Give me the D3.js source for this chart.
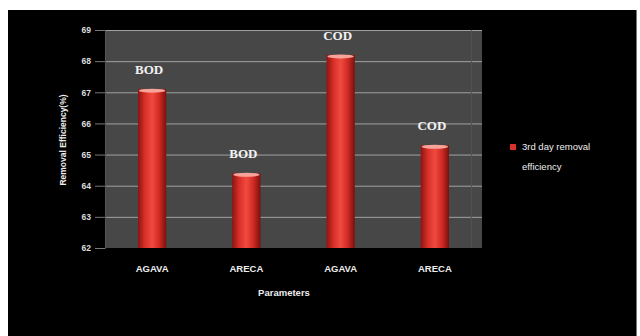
<!DOCTYPE html>
<html><head><meta charset="utf-8">
<script src="https://cdn.jsdelivr.net/npm/d3@7"></script>
<style>html,body{margin:0;padding:0;background:#fff;}svg{display:block;}</style>
</head><body>
<script>
const categories = ["AGAVA", "ARECA", "AGAVA", "ARECA"];
const parameters = ["BOD", "BOD", "COD", "COD"];
const values = [67.1, 64.4, 68.2, 65.3];
const yTicks = [62, 63, 64, 65, 66, 67, 68, 69];
const seriesName = ["3rd day removal", "efficiency"];

const W = 640, H = 336;
const svg = d3.select("body").append("svg").attr("width", W).attr("height", H);
const defs = svg.append("defs");
const g1 = defs.append("linearGradient").attr("id", "barGrad").attr("x1", "0").attr("x2", "1").attr("y1", "0").attr("y2", "0");
[[0, "#8c1410"], [0.25, "#d8302a"], [0.5, "#f04a40"], [0.75, "#d02a24"], [1, "#7a100c"]].forEach(([o, c]) => g1.append("stop").attr("offset", o).attr("stop-color", c));

svg.append("rect").attr("x", 0).attr("y", 0).attr("width", W).attr("height", H).attr("fill", "#fff");
svg.append("rect").attr("x", 8).attr("y", 10).attr("width", 628).attr("height", 326).attr("fill", "#000");
svg.append("line").attr("x1", 636.5).attr("x2", 636.5).attr("y1", 10).attr("y2", 336).attr("stroke", "#777").attr("stroke-width", 1);

const L = 105, R = 482, T = 30, B = 248;
const x = d3.scaleBand().domain(d3.range(categories.length)).range([L, R]).paddingInner(0.7).paddingOuter(0.35);
const y = d3.scaleLinear().domain([62, 69]).range([B, T]);

svg.append("rect").attr("x", L).attr("y", T).attr("width", R - L).attr("height", B - T).attr("fill", "#474747");
svg.append("g").selectAll("line").data(yTicks.slice(1)).join("line")
  .attr("x1", L).attr("x2", R).attr("y1", d => y(d) + 0.5).attr("y2", d => y(d) + 0.5)
  .attr("stroke", "#a0a0a0").attr("stroke-width", 1);
svg.append("line").attr("x1", R - 10.5).attr("x2", R - 10.5).attr("y1", T).attr("y2", B).attr("stroke", "#525252");

const yAxis = svg.append("g").attr("transform", `translate(${L},0)`)
  .call(d3.axisLeft(y).tickValues(yTicks).tickSize(10).tickPadding(4).tickFormat(d3.format("d")));
yAxis.select(".domain").attr("stroke", "#555");
yAxis.selectAll(".tick line").attr("stroke", "#777");
yAxis.selectAll("text").attr("fill", "#ddd").attr("font-family", "Liberation Sans, Arial, sans-serif").attr("font-size", 8.5).attr("font-weight", "bold");

svg.append("g").selectAll("rect").data(values).join("rect")
  .attr("x", (d, i) => x(i)).attr("width", x.bandwidth())
  .attr("y", d => y(d)).attr("height", d => B - y(d))
  .attr("fill", "url(#barGrad)");
svg.append("g").selectAll("ellipse").data(values).join("ellipse")
  .attr("cx", (d, i) => x(i) + x.bandwidth() / 2).attr("cy", d => y(d) + 1.5)
  .attr("rx", x.bandwidth() / 2 - 1).attr("ry", 2).attr("fill", "#f6a49a");

svg.append("g").selectAll("text").data(values).join("text")
  .attr("x", (d, i) => x(i) + x.bandwidth() / 2 - 3).attr("y", d => y(d) - 15)
  .attr("text-anchor", "middle").attr("fill", "#f2f2f2")
  .attr("font-family", "Liberation Serif, Times New Roman, serif").attr("font-weight", "bold").attr("font-size", 13)
  .text((d, i) => parameters[i]);

const xAxis = svg.append("g").attr("transform", `translate(0,${B})`)
  .call(d3.axisBottom(x).tickSize(0).tickPadding(17).tickFormat(i => categories[i]));
xAxis.select(".domain").remove();
xAxis.selectAll("text").attr("fill", "#eee").attr("font-family", "Liberation Sans, Arial, sans-serif").attr("font-size", 9.5).attr("font-weight", "bold");

svg.append("text").attr("x", 284).attr("y", 296).attr("text-anchor", "middle").attr("fill", "#eee")
  .attr("font-family", "Liberation Sans, Arial, sans-serif").attr("font-size", 9.5).attr("font-weight", "bold").text("Parameters");
svg.append("text").attr("transform", "translate(66,140) rotate(-90)").attr("text-anchor", "middle").attr("fill", "#eee")
  .attr("font-family", "Liberation Sans, Arial, sans-serif").attr("font-size", 8.5).attr("font-weight", "bold").text("Removal Efficiency(%)");

svg.append("rect").attr("x", 510).attr("y", 144).attr("width", 6).attr("height", 6).attr("fill", "#d8302a");
svg.append("g").selectAll("text").data(seriesName).join("text")
  .attr("x", 522).attr("y", (d, i) => 150 + i * 20).attr("fill", "#eee")
  .attr("font-family", "Liberation Sans, Arial, sans-serif").attr("font-size", 9.5).text(d => d);
</script>
</body></html>
